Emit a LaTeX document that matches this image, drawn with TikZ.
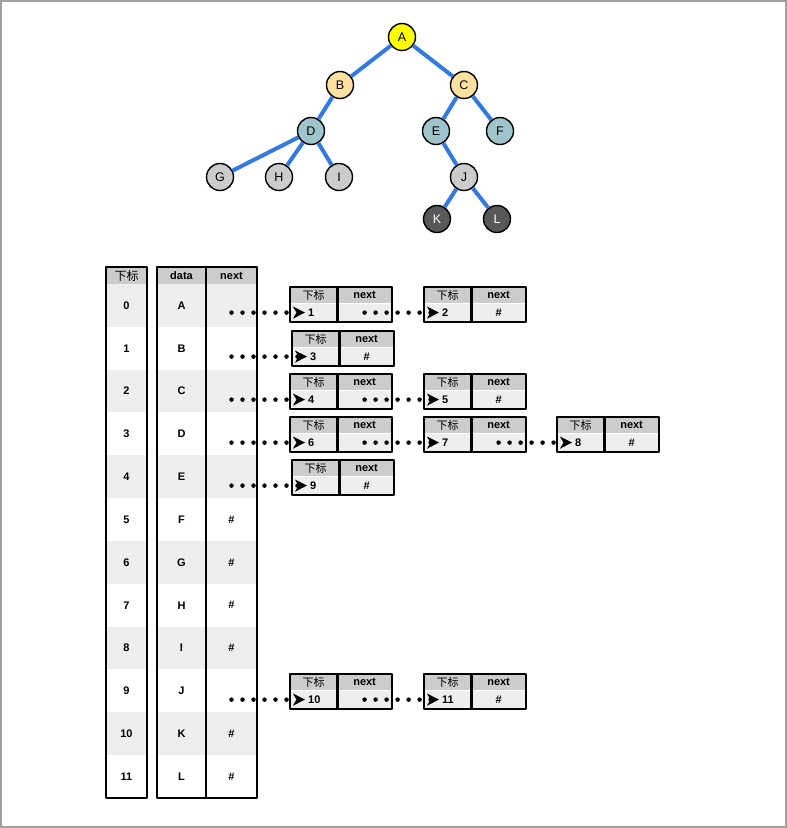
\documentclass[tikz,border=0pt]{standalone}
\usepackage{fontspec}
\setmainfont{Liberation Sans}
\newfontfamily\cjk{Noto Sans CJK SC}
\usetikzlibrary{calc,arrows.meta}
\definecolor{tb}{RGB}{52,122,222}
\definecolor{ya}{RGB}{255,255,0}
\definecolor{yo}{RGB}{255,225,160}
\definecolor{bg}{RGB}{160,196,204}
\definecolor{lg}{RGB}{204,204,204}
\definecolor{dg}{RGB}{88,88,88}
\definecolor{hd}{RGB}{204,204,204}
\definecolor{rw}{RGB}{238,238,238}
\definecolor{fr}{RGB}{160,160,160}
\tikzstyle{vtx}=[circle,draw,line width=1.4pt,minimum size=27pt,inner sep=0pt,font=\fontsize{12.5}{12.5}\selectfont]
\tikzstyle{tedge}=[draw=tb,line width=4pt]
\tikzstyle{cell}=[rectangle,inner sep=0pt,minimum height=42.83pt,font=\bfseries\fontsize{11}{11}\selectfont]
\tikzstyle{head}=[rectangle,inner sep=0pt,minimum height=17pt,fill=hd,font=\bfseries\fontsize{11}{11}\selectfont]
\tikzstyle{hcell}=[rectangle,inner sep=0pt,minimum height=16pt,fill=hd,anchor=north west,font=\bfseries\fontsize{11}{11}\selectfont]
\tikzstyle{bcell}=[rectangle,inner sep=0pt,minimum height=18pt,fill=rw,anchor=north west,font=\bfseries\fontsize{11}{11}\selectfont]
\tikzstyle{tframe}=[line width=2.2pt,line join=round]
\tikzstyle{linkdots}=[line width=4.5pt,line cap=round,dash pattern=on 0pt off 11pt,-{Stealth[length=12pt,width=12pt,inset=3.5pt,line width=1.2pt]}]
\newcommand{\lbox}[5]{%
	\node[hcell,minimum width=47pt] (h#1) at (#2,#3) {\cjk\mdseries\fontsize{11}{11}\selectfont 下标};
	\node[hcell,minimum width=54pt] (g#1) at (h#1.north east) {next};
	\node[bcell,minimum width=47pt] (p#1) at (h#1.south west) {};
	\node[bcell,minimum width=54pt] (q#1) at (h#1.south east) {#5};
	\node[bcell,fill=none,minimum width=0pt,anchor=west] (t#1) at ([xshift=18pt]p#1.west) {#4};
	\draw[tframe] (h#1.north west) rectangle (q#1.south east);
	\draw[tframe] (g#1.north west) -- (q#1.south west);
}

\begin{document}
\begin{tikzpicture}[x=1pt,y=-1pt]
	\useasboundingbox (0,0) rectangle (787,828);
	\draw[fr,line width=1.5pt] (1,1) rectangle (786,827);
	\node[vtx,fill=ya] (A) at (402,37) {A};
	\node[vtx,fill=yo] (B) at (340,85) {B};
	\node[vtx,fill=yo] (C) at (464,85) {C};
	\node[vtx,fill=bg] (D) at (311,131) {D};
	\node[vtx,fill=bg] (E) at (436,131) {E};
	\node[vtx,fill=bg] (F) at (500,131) {F};
	\node[vtx,fill=lg] (G) at (220,177) {G};
	\node[vtx,fill=lg] (H) at (279,177) {H};
	\node[vtx,fill=lg] (I) at (339,177) {I};
	\node[vtx,fill=lg] (J) at (464,177) {J};
	\node[vtx,fill=dg,text=white] (K) at (437,219) {K};
	\node[vtx,fill=dg,text=white] (L) at (497,219) {L};
	\path[tedge]
		(A)	edge	(B)
		(A)	edge	(C)
		(B)	edge	(D)
		(D)	edge	(G)
		(D)	edge	(H)
		(D)	edge	(I)
		(C)	edge	(E)
		(C)	edge	(F)
		(E)	edge	(J)
		(J)	edge	(K)
		(J)	edge	(L);
	\node[head,minimum width=41pt] (ih) at (126.5,275.5) {\cjk\mdseries\fontsize{12}{12}\selectfont 下标};
	\node[head,minimum width=49pt] (dh) at (181.5,275.5) {data};
	\node[head,minimum width=51pt] (nh) at (231.5,275.5) {next};
	\foreach \r/\d/\n in {0/A/{},1/B/{},2/C/{},3/D/{},4/E/{},5/F/\#,6/G/\#,7/H/\#,8/I/\#,9/J/{},10/K/\#,11/L/\#}{
		\ifodd\r\relax\def\fc{white}\else\def\fc{rw}\fi
		\node[cell,fill=\fc,minimum width=41pt] (i\r) at (126.5,305.4+42.83*\r) {\r};
		\node[cell,fill=\fc,minimum width=49pt] (d\r) at (181.5,305.4+42.83*\r) {\d};
		\node[cell,fill=\fc,minimum width=51pt] (n\r) at (231.5,305.4+42.83*\r) {\n};
	}
	\lbox{1}{290}{287}{1}{}
	\lbox{2}{424}{287}{2}{\#}
	\lbox{3}{292}{331}{3}{\#}
	\lbox{4}{290}{374}{4}{}
	\lbox{5}{424}{374}{5}{\#}
	\lbox{6}{290}{417}{6}{}
	\lbox{7}{424}{417}{7}{}
	\lbox{8}{557}{417}{8}{\#}
	\lbox{9}{292}{460}{9}{\#}
	\lbox{10}{290}{674}{10}{}
	\lbox{11}{424}{674}{11}{\#}
	\foreach \r/\k in {0/1,1/3,2/4,3/6,4/9,9/10}{
		\coordinate (s\r) at (n\r |- p\k);
		\draw[linkdots] (s\r) -- ([xshift=15pt]p\k.west);
	}
	\foreach \a/\b in {1/2,4/5,6/7,7/8,10/11}
		\draw[linkdots] (q\a.center) -- ([xshift=15pt]p\b.west);
	\draw[tframe] (ih.north west) rectangle (i11.south east);
	\draw[tframe] (dh.north west) rectangle (n11.south east);
	\draw[tframe] (nh.north west) -- (n11.south west);
\end{tikzpicture}
\end{document}
